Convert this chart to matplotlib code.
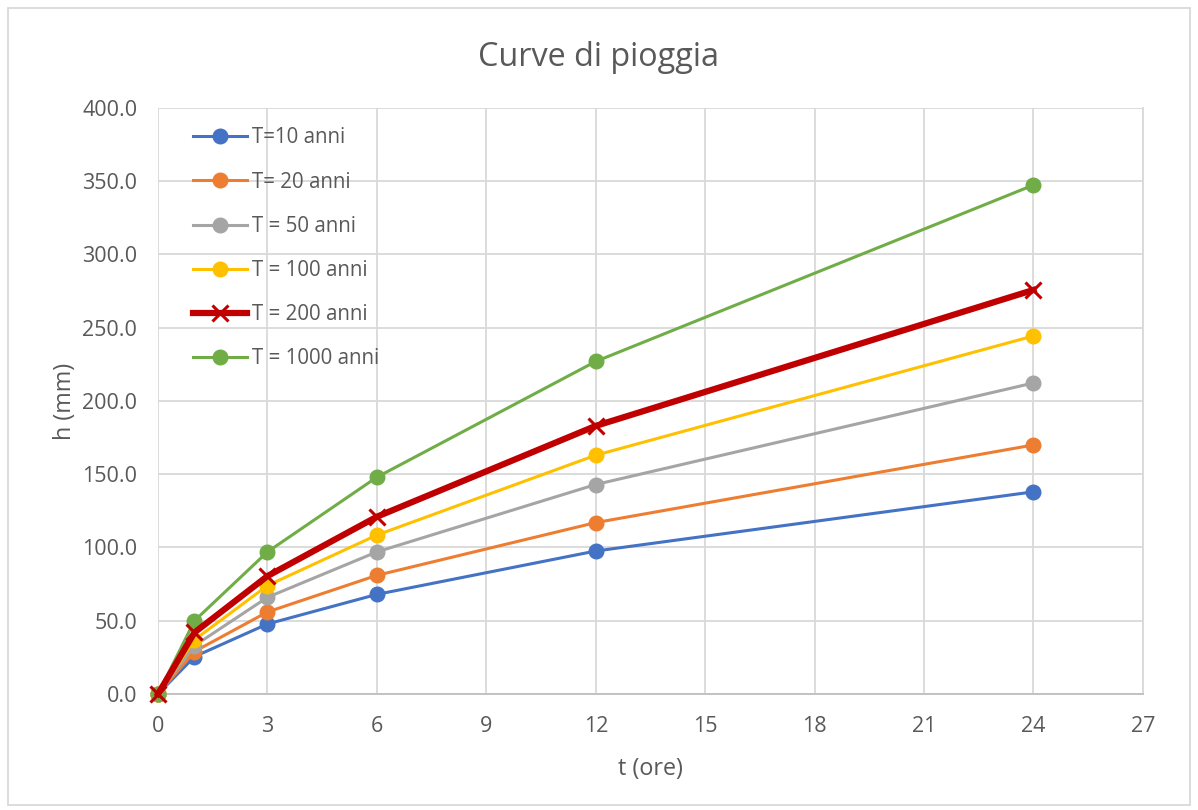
"""
    Curve di pioggia: altezza di pioggia h(t) per diversi tempi di ritorno
"""
import matplotlib
matplotlib.use('Agg')
import matplotlib.pyplot as plt
from matplotlib.patches import Rectangle
from matplotlib.ticker import FormatStrFormatter, MultipleLocator

plt.rcParams['font.family'] = ['Open Sans', 'DejaVu Sans']

# durate (ore)
t_ore = [0, 1, 3, 6, 12, 24]

# altezze di pioggia (mm) per tempo di ritorno
h_10 = [0.0, 25.5, 47.8, 68.0, 97.6, 138.0]
h_20 = [0.0, 29.0, 56.0, 81.0, 117.0, 170.0]
h_50 = [0.0, 33.0, 66.0, 97.0, 143.0, 212.3]
h_100 = [0.0, 37.0, 74.0, 108.5, 163.0, 244.4]
h_200 = [0.0, 42.0, 80.5, 121.0, 183.0, 275.8]
h_1000 = [0.0, 50.0, 97.0, 148.0, 227.0, 347.4]

labels = ['T=10 anni', 'T= 20 anni', 'T = 50 anni', 'T = 100 anni',
          'T = 200 anni', 'T = 1000 anni']
colors = ['#4472C4', '#ED7D31', '#A5A5A5', '#FFC000', '#C00000', '#70AD47']
series = [h_10, h_20, h_50, h_100, h_200, h_1000]

TXT = '#595959'

fig = plt.figure(figsize=(11.98, 8.10), dpi=100)
ax = fig.add_axes([0.1319, 0.1432, 0.8221, 0.7235])

for h, lab, col in zip(series, labels, colors):
    if lab.startswith('T = 200'):
        ax.plot(t_ore, h, color=col, lw=4.5, marker='x', ms=12, mew=2.2,
                label=lab, zorder=4, clip_on=False)
    else:
        ax.plot(t_ore, h, color=col, lw=2.2, marker='o', ms=10.5,
                label=lab, zorder=3, clip_on=False)

ax.set_xlim(0, 27)
ax.set_ylim(0, 400)
ax.xaxis.set_major_locator(MultipleLocator(3))
ax.yaxis.set_major_locator(MultipleLocator(50))
ax.yaxis.set_major_formatter(FormatStrFormatter('%.1f'))
ax.grid(True, color='#d9d9d9', lw=1.3)
ax.set_axisbelow(True)
for side in ['top', 'left']:
    ax.spines[side].set_visible(False)
ax.spines['right'].set_color('#d9d9d9')
ax.spines['right'].set_linewidth(1.3)
ax.spines['bottom'].set_color('#bfbfbf')
ax.spines['bottom'].set_linewidth(1.3)
ax.tick_params(length=0, labelsize=15.5, colors=TXT)
ax.tick_params(axis='x', pad=16)
ax.tick_params(axis='y', pad=15)

ax.set_xlabel('t (ore)', fontsize=16.8, color=TXT, labelpad=14)
ax.set_ylabel('h (mm)', fontsize=16.8, color=TXT, labelpad=3.5)
fig.text(0.5, 0.929, 'Curve di pioggia', ha='center', va='center',
         fontsize=23.3, color=TXT)

leg = ax.legend(loc='upper left', bbox_to_anchor=(0.0355, 0.967),
                borderaxespad=0, borderpad=0, frameon=False,
                fontsize=14.8, handlelength=2.65, handletextpad=0.2,
                labelspacing=1.13, labelcolor=TXT)

# bordo dell'area del grafico
fig.patches.append(Rectangle((0.007, 0.006), 0.986, 0.984,
                             transform=fig.transFigure, fill=False,
                             edgecolor='#d9d9d9', lw=1.3))

fig.savefig('out.png', dpi=100)
